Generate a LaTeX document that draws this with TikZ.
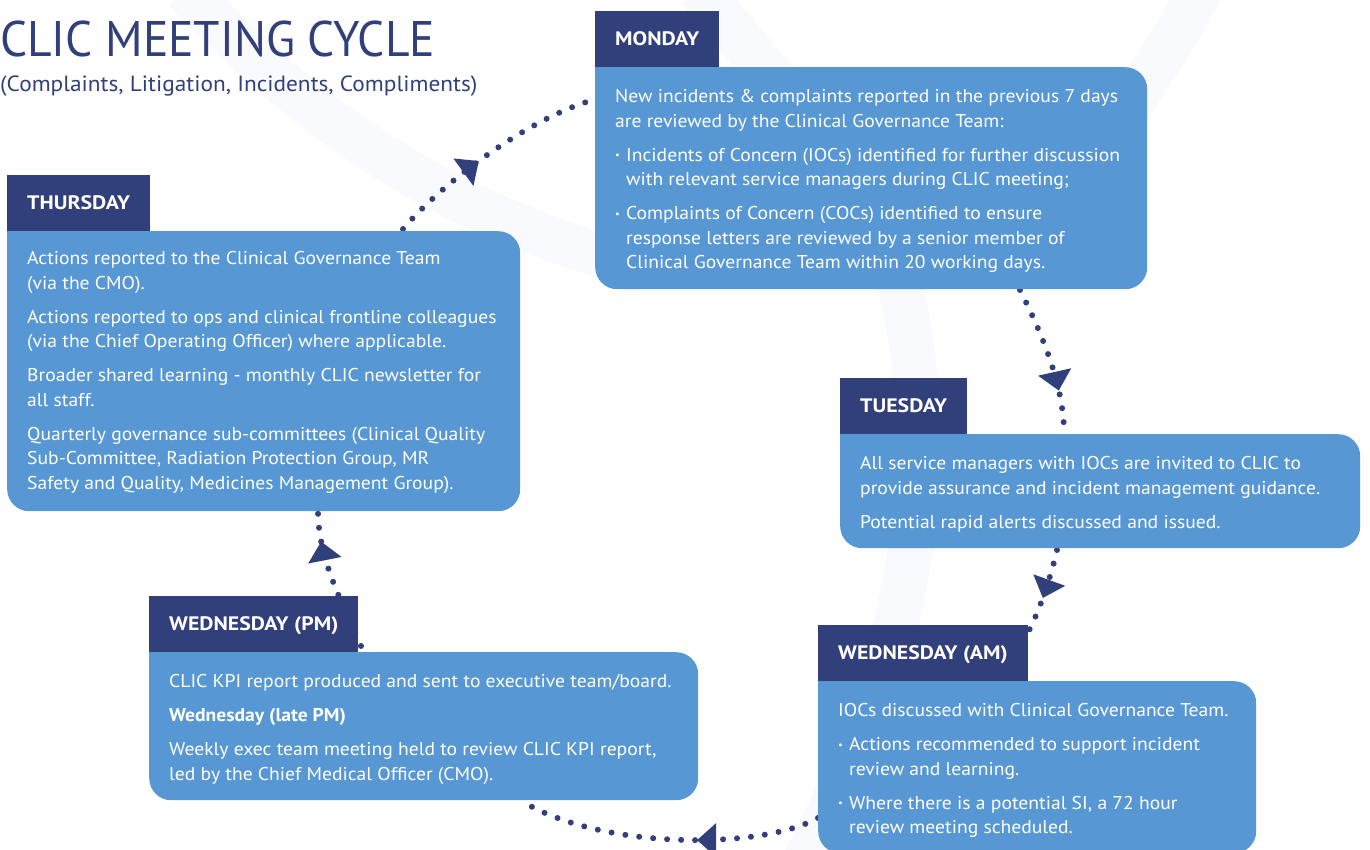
\documentclass[tikz,border=0pt]{standalone}
\usepackage{fontspec}
\setmainfont[FakeStretch=1.06]{PT Sans}
\newfontfamily\titlefont[FakeStretch=0.95]{PT Sans}
\newfontfamily\labelfont[FakeStretch=1.12]{PT Sans}
\usetikzlibrary{decorations.markings,calc}
\definecolor{navy}{RGB}{49,63,123}
\definecolor{boxblue}{RGB}{87,151,212}
\definecolor{faint}{RGB}{249,250,253}
\newcommand\cbul{\makebox[11pt][l]{\raisebox{2.5pt}{\fontsize{10}{10}\selectfont\textbullet}}}
\newcommand\cind{\hspace*{11pt}}
\begin{document}
\begin{tikzpicture}[x=1pt,y=-1pt,
  panel/.style={fill=boxblue, rounded corners=22pt, anchor=north west, inner sep=0pt},
  daylabel/.style={anchor=south west, fill=navy, text=white, font=\labelfont\fontsize{19.5}{20}\selectfont\bfseries,
    inner xsep=20pt, inner ysep=0pt, minimum height=56pt, text height=13.5pt, text depth=0pt},
  bodytext/.style={anchor=north west, inner sep=0pt, align=left, text=white,
    font=\fontsize{18.5}{24.5}\selectfont},
  dots/.style={draw=navy, line width=6pt, line cap=round, dash pattern=on 0pt off 14pt},
  arrowat/.style={postaction={decorate}, decoration={markings,
    mark=at position #1 with {\fill[navy] (0pt,0pt) -- (-19pt,17pt) -- (-19pt,-17pt) -- cycle;}}},
  band/.style={draw=faint, line width=45pt}
]
\useasboundingbox (0,0) rectangle (1370,850);
% faint background watermark
\draw[band] (185,-10) .. controls (300,110) and (420,200) .. (600,255);
\draw[band] (700,-10) .. controls (800,120) and (900,180) .. (915,380) .. controls (930,560) and (880,720) .. (800,870);
\draw[band] (1200,-10) .. controls (1180,30) and (1160,60) .. (1120,120);

% title
\node[anchor=base west, inner sep=0pt, text=navy, font=\titlefont\fontsize{50}{50}\selectfont] (title) at (0,57) {CLIC MEETING CYCLE};
\node[anchor=base west, inner sep=0pt, text=navy, font=\fontsize{22}{22}\selectfont] (subtitle) at (0,92) {(Complaints, Litigation, Incidents, Compliments)};

% panel positions
\path (595,67) coordinate (monP) (7,231) coordinate (thuP) (840,434) coordinate (tueP)
      (818,681) coordinate (wamP) (149,652) coordinate (wpmP);

% connector end points
\coordinate (c1s) at ($(thuP)+(396,-2)$);
\coordinate (c1e) at ($(monP)+(-2,33)$);
\coordinate (c2s) at ($(monP)+(425,223)$);
\coordinate (c2e) at ($(tueP)+(224,-6)$);
\coordinate (c3s) at ($(tueP)+(217,116)$);
\coordinate (c3e) at ($(wamP)+(208,-45)$);
\coordinate (c4s) at ($(wamP)+(0,137)$);
\coordinate (c4e) at ($(wpmP)+(371,148)$);
\coordinate (c5s) at ($(wpmP)+(212,-6)$);
\coordinate (c5e) at ($(thuP)+(311,279)$);

% connectors
\draw[dots, arrowat=102pt] (c1s) .. controls (445,180) and (530,118) .. (c1e);
\draw[dots, arrowat=108pt] (c2s) .. controls (1040,330) and (1062,380) .. (c2e);
\draw[dots, arrowat=50pt] (c3s) .. controls (1050,580) and (1038,615) .. (c3e);
\draw[dots, arrowat=124pt] (c4s) .. controls (760,850) and (600,850) .. (c4e);
\draw[dots, arrowat=112pt] (c5s) .. controls (338,595) and (318,555) .. (c5e);

% MONDAY
\node[panel, minimum width=552pt, minimum height=222pt] (monB) at (monP) {};
\fill[boxblue] (monB.north west) rectangle ++(30,30);
\node[daylabel] (monL) at (monB.north west) {MONDAY};
\node[bodytext] (monT) at (615,87.5) {\rule{0pt}{15pt}New incidents \& complaints reported in the previous 7 days\\
are reviewed by the Clinical Governance Team:\\[9.5pt]
\cbul Incidents of Concern (IOCs) identified for further discussion\\
\cind with relevant service managers during CLIC meeting;\\[9.5pt]
\cbul Complaints of Concern (COCs) identified to ensure\\
\cind response letters are reviewed by a senior member of\\
\cind Clinical Governance Team within 20 working days.};

% THURSDAY
\node[panel, minimum width=513pt, minimum height=280pt] (thuB) at (thuP) {};
\fill[boxblue] (thuB.north west) rectangle ++(30,30);
\node[daylabel] (thuL) at (thuB.north west) {THURSDAY};
\node[bodytext] (thuT) at (27,249.5) {\rule{0pt}{15pt}Actions reported to the Clinical Governance Team\\
(via the CMO).\\[9.5pt]
Actions reported to ops and clinical frontline colleagues\\
(via the Chief Operating Officer) where applicable.\\[9.5pt]
Broader shared learning - monthly CLIC newsletter for\\
all staff.\\[9.5pt]
Quarterly governance sub-committees (Clinical Quality\\
Sub-Committee, Radiation Protection Group, MR\\
Safety and Quality, Medicines Management Group).};

% TUESDAY
\node[panel, minimum width=520pt, minimum height=114pt] (tueB) at (tueP) {};
\fill[boxblue] (tueB.north west) rectangle ++(30,30);
\node[daylabel] (tueL) at (tueB.north west) {TUESDAY};
\node[bodytext] (tueT) at (860,454.5) {\rule{0pt}{15pt}All service managers with IOCs are invited to CLIC to\\
provide assurance and incident management guidance.\\[9.5pt]
Potential rapid alerts discussed and issued.};

% WEDNESDAY (AM)
\node[panel, minimum width=438pt, minimum height=172pt] (wamB) at (wamP) {};
\fill[boxblue] (wamB.north west) rectangle ++(30,30);
\node[daylabel] (wamL) at (wamB.north west) {WEDNESDAY (AM)};
\node[bodytext] (wamT) at (838,701.5) {\rule{0pt}{15pt}IOCs discussed with Clinical Governance Team.\\[9.5pt]
\cbul Actions recommended to support incident\\
\cind review and learning.\\[9.5pt]
\cbul Where there is a potential SI, a 72 hour\\
\cind review meeting scheduled.};

% WEDNESDAY (PM)
\node[panel, minimum width=549pt, minimum height=148pt] (wpmB) at (wpmP) {};
\fill[boxblue] (wpmB.north west) rectangle ++(30,30);
\node[daylabel] (wpmL) at (wpmB.north west) {WEDNESDAY (PM)};
\node[bodytext] (wpmT) at (169,672.5) {\rule{0pt}{15pt}CLIC KPI report produced and sent to executive team/board.\\[9.5pt]
\textbf{Wednesday (late PM)}\\[9.5pt]
Weekly exec team meeting held to review CLIC KPI report,\\
led by the Chief Medical Officer (CMO).};
\end{tikzpicture}
\end{document}
